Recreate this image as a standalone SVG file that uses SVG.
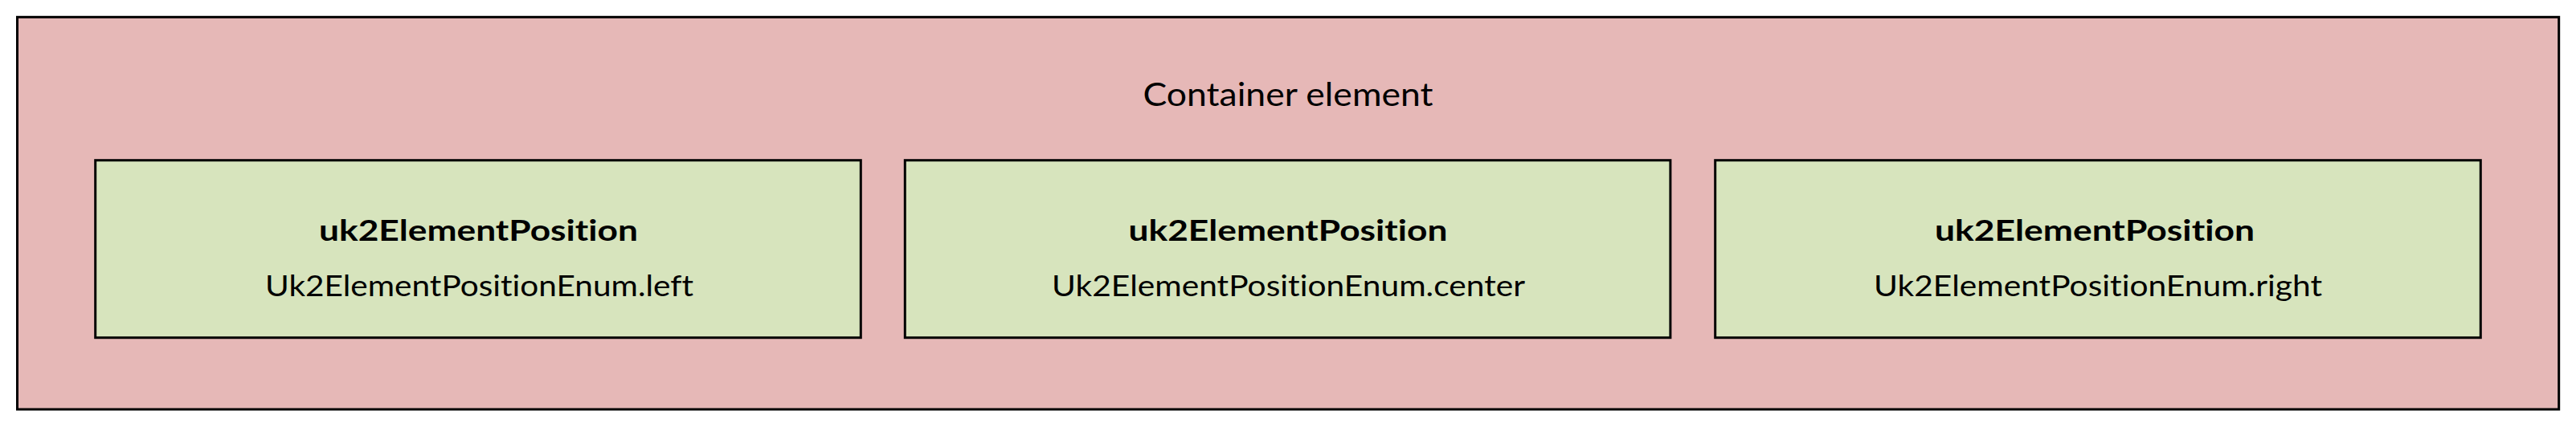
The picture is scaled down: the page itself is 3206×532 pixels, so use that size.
<svg xmlns="http://www.w3.org/2000/svg" width="3206" height="532" viewBox="0 0 3206 532">
  <style>
    .container { fill: #E6B8B7; stroke: #000000; stroke-width: 3; }
    .box { fill: #D7E4BD; stroke: #000000; stroke-width: 3; }
    .t { font-family: Lato, "Open Sans", "Liberation Sans", sans-serif; fill: #000000; text-anchor: middle; font-variant-ligatures: none; font-feature-settings: "liga" 0, "clig" 0; }
    .ctitle { font-size: 40px; }
    .name { font-size: 36px; font-weight: bold; }
    .val { font-size: 37px; }
  </style>
  <rect width="3206" height="532" fill="#FFFFFF"/>
  <g id="container">
    <rect class="container" x="21.5" y="21.3" width="3163.2" height="488.7"/>
    <text class="t ctitle" x="1603" y="132" textLength="361" lengthAdjust="spacingAndGlyphs">Container element</text>
  </g>
  <g id="node-left">
    <rect class="box" x="118.7" y="199.7" width="952.6" height="221"/>
    <text class="t name" x="595.5" y="300" textLength="397" lengthAdjust="spacingAndGlyphs">uk2ElementPosition</text>
    <text class="t val" x="596.5" y="369" textLength="533" lengthAdjust="spacingAndGlyphs">Uk2ElementPositionEnum.left</text>
  </g>
  <g id="node-center">
    <rect class="box" x="1126.3" y="199.7" width="952.6" height="221"/>
    <text class="t name" x="1603" y="300" textLength="397" lengthAdjust="spacingAndGlyphs">uk2ElementPosition</text>
    <text class="t val" x="1603.5" y="369" textLength="589" lengthAdjust="spacingAndGlyphs">Uk2ElementPositionEnum.center</text>
  </g>
  <g id="node-right">
    <rect class="box" x="2134.7" y="199.7" width="952.6" height="221"/>
    <text class="t name" x="2607" y="300" textLength="398" lengthAdjust="spacingAndGlyphs">uk2ElementPosition</text>
    <text class="t val" x="2611" y="369" textLength="558" lengthAdjust="spacingAndGlyphs">Uk2ElementPositionEnum.right</text>
  </g>
  <g id="connectors"></g>
</svg>
